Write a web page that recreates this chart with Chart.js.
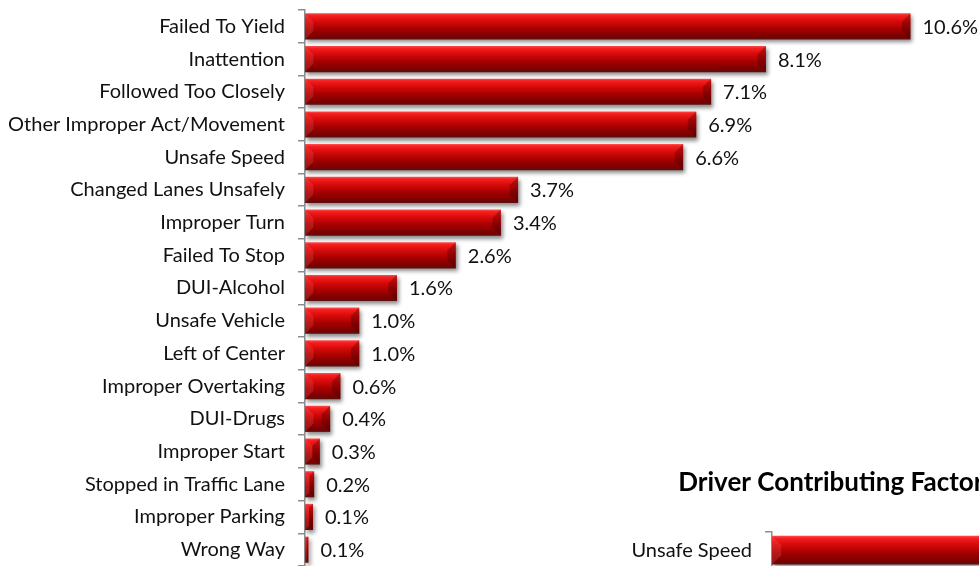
<!DOCTYPE html>
<html><head><meta charset="utf-8">
<script src="https://cdn.jsdelivr.net/npm/chart.js@4"></script>
<style>
html,body{margin:0;padding:0;background:#fff;overflow:hidden;width:979px;height:566px;position:relative;}
#a{position:absolute;left:0;top:0;}
#b{position:absolute;left:630px;top:460px;}
</style></head><body>
<canvas id="a" width="979" height="566"></canvas>
<canvas id="b" width="400" height="108"></canvas>
<script>
// ---- data ----
const categories = ['Failed To Yield','Inattention','Followed Too Closely','Other Improper Act/Movement','Unsafe Speed','Changed Lanes Unsafely','Improper Turn','Failed To Stop','DUI-Alcohol','Unsafe Vehicle','Left of Center','Improper Overtaking','DUI-Drugs','Improper Start','Stopped in Traffic Lane','Improper Parking','Wrong Way'];
const values = [10.6, 8.07, 7.11, 6.85, 6.62, 3.73, 3.43, 2.64, 1.61, 0.95, 0.95, 0.62, 0.44, 0.26, 0.16, 0.14, 0.06];
const valueLabels = ['10.6%','8.1%','7.1%','6.9%','6.6%','3.7%','3.4%','2.6%','1.6%','1.0%','1.0%','0.6%','0.4%','0.3%','0.2%','0.1%','0.1%'];
const titleB = 'Driver Contributing Factors';
const categoriesB = ['Unsafe Speed'];
const valuesB = [6.6];

const FONT = 'Lato';
const FS = 20;
const TFS = 26;

function barFill(ctx){
  const chart = ctx.chart;
  const ys = chart.scales.y;
  if (!ys || ctx.dataIndex === undefined || !isFinite(ys.height)) return '#c00000';
  const n = chart.data.labels.length;
  const c = ys.getPixelForValue(ctx.dataIndex);
  const h = ys.height / n * 0.8;
  const g = chart.ctx.createLinearGradient(0, c - h/2, 0, c + h/2);
  g.addColorStop(0, '#ff5050');
  g.addColorStop(0.08, '#f52020');
  g.addColorStop(0.3, '#d80a0a');
  g.addColorStop(0.6, '#a50000');
  g.addColorStop(0.88, '#7c0000');
  g.addColorStop(1, '#5a1010');
  return g;
}

const decor = {
  id: 'decor',
  beforeDatasetsDraw(chart){
    const c = chart.ctx; c.save();
    c.shadowColor = 'rgba(0,0,0,0.45)'; c.shadowBlur = 4; c.shadowOffsetX = 2; c.shadowOffsetY = 3;
  },
  afterDatasetsDraw(chart, args, opts){
    const c = chart.ctx; c.restore();
    const meta = chart.getDatasetMeta(0);
    meta.data.forEach((el, i) => {
      const p = el.getProps(['x','y','base','height'], true);
      const top = p.y - p.height/2, bot = p.y + p.height/2;
      const l = Math.min(p.base, p.x), r = Math.max(p.base, p.x);
      const b = Math.min(p.height*0.32, (r-l)/2);
      c.save();
      c.beginPath(); c.moveTo(l,top); c.lineTo(l+b,top+b); c.lineTo(l+b,bot-b); c.lineTo(l,bot); c.closePath();
      c.fillStyle = 'rgba(255,110,110,0.22)'; c.fill();
      c.beginPath(); c.moveTo(r,top); c.lineTo(r-b,top+b); c.lineTo(r-b,bot-b); c.lineTo(r,bot); c.closePath();
      c.fillStyle = 'rgba(60,0,0,0.32)'; c.fill();
      c.restore();
      if (opts && opts.labels){
        c.save();
        c.font = FS + 'px ' + FONT; c.fillStyle = '#111';
        c.textAlign = 'left'; c.textBaseline = 'middle';
        c.fillText(opts.labels[i], r + 12, p.y + 1);
        c.restore();
      }
    });
  }
};

function yAxis(width, tickFont){
  return {
    type: 'category',
    afterFit(s){ s.width = width; s.paddingTop = 0; s.paddingBottom = 0; },
    grid: { display: true, drawOnChartArea: false, drawTicks: true, tickLength: 7, color: '#8c8c8c', lineWidth: 1.5, offset: true },
    border: { display: true, color: '#8c8c8c', width: 1.5 },
    ticks: { color: '#111', font: tickFont, padding: 13, autoSkip: false }
  };
}

new Chart(document.getElementById('a'), {
  type: 'bar',
  data: { labels: categories, datasets: [{ data: values, backgroundColor: barFill, borderWidth: 0, barPercentage: 0.8, categoryPercentage: 1.0 }] },
  options: {
    indexAxis: 'y', responsive: false, animation: false,
    layout: { padding: { top: 10, bottom: 0, left: 0, right: 0 } },
    scales: {
      x: { display: false, min: 0, max: 11.8 },
      y: yAxis(305, { family: FONT, size: FS })
    },
    plugins: { legend: { display: false }, tooltip: { enabled: false }, title: { display: false }, decor: { labels: valueLabels } }
  },
  plugins: [decor]
});

// second (cut-off) chart
const cb = document.getElementById('b');
const mctx = cb.getContext('2d');
mctx.font = 'bold ' + TFS + 'px ' + FONT;
const T = mctx.measureText(titleB).width;
cb.width = Math.round(2*(678-630) + T);
cb.height = 108;
new Chart(cb, {
  type: 'bar',
  data: { labels: categoriesB, datasets: [{ data: valuesB, backgroundColor: barFill, borderWidth: 0, barPercentage: 0.8, categoryPercentage: 1.0 }] },
  options: {
    indexAxis: 'y', responsive: false, animation: false,
    layout: { padding: 0 },
    scales: {
      x: { display: false, min: 0, max: 6.6 },
      y: yAxis(142, { family: FONT, size: FS })
    },
    plugins: {
      legend: { display: false }, tooltip: { enabled: false },
      title: { display: true, text: titleB, align: 'center', color: '#000', font: { family: FONT, size: TFS, weight: 'bold', lineHeight: 1.2 }, padding: { top: 7, bottom: 34 } },
      decor: {}
    }
  },
  plugins: [decor]
});
</script>
</body></html>
